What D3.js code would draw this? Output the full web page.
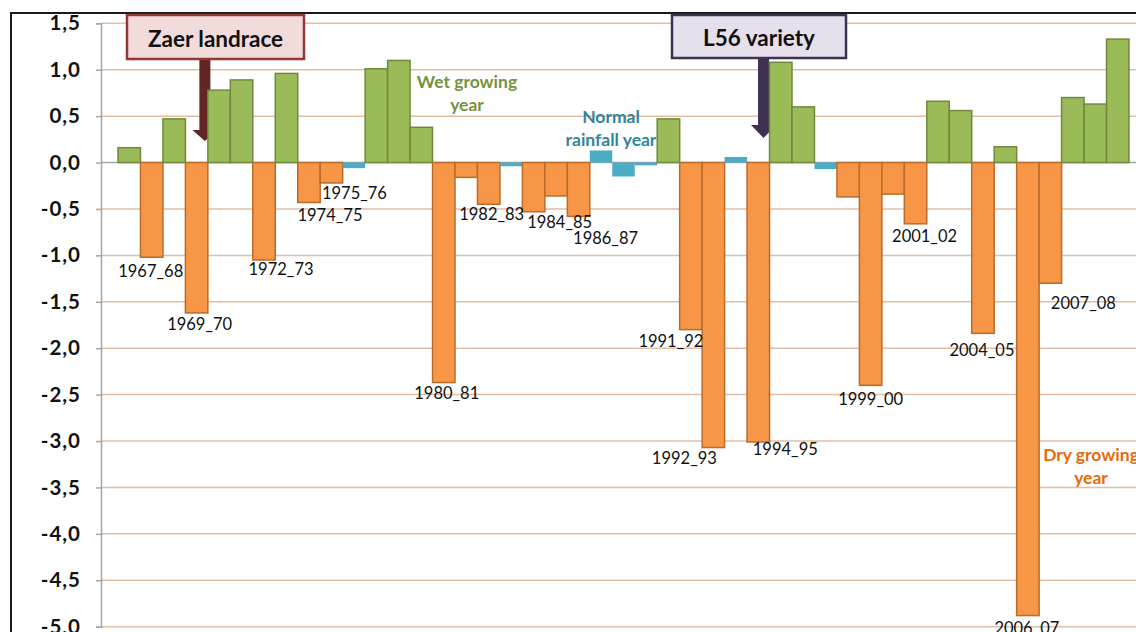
<!DOCTYPE html>
<html>
<head>
<meta charset="utf-8">
<script src="https://cdn.jsdelivr.net/npm/d3@7"></script>
<style>
  body { margin: 0; background: #fff; }
  svg { display: block; }
</style>
</head>
<body>
<script>
// growing seasons (x categories)
const seasons = ["1966_67","1967_68","1968_69","1969_70","1970_71","1971_72","1972_73","1973_74","1974_75","1975_76",
  "1976_77","1977_78","1978_79","1979_80","1980_81","1981_82","1982_83","1983_84","1984_85","1985_86",
  "1986_87","1987_88","1988_89","1989_90","1990_91","1991_92","1992_93","1993_94","1994_95","1995_96",
  "1996_97","1997_98","1998_99","1999_00","2000_01","2001_02","2002_03","2003_04","2004_05","2005_06",
  "2006_07","2007_08","2008_09","2009_10","2010_11"];

// rainfall index
const index = [0.16,-1.02,0.47,-1.62,0.78,0.89,-1.05,0.96,-0.43,-0.22,
  -0.06,1.01,1.10,0.38,-2.37,-0.16,-0.45,-0.04,-0.53,-0.36,
  -0.58,0.13,-0.15,-0.03,0.47,-1.80,-3.07,0.06,-3.01,1.08,
  0.60,-0.07,-0.37,-2.40,-0.34,-0.66,0.66,0.56,-1.84,0.17,
  -4.88,-1.30,0.70,0.63,1.33];

// W = wet, D = dry, N = normal
const yearType = ["W","D","W","D","W","W","D","W","D","D",
  "N","W","W","W","D","D","D","N","D","D",
  "D","N","N","N","W","D","D","N","D","W",
  "W","N","D","D","D","D","W","W","D","W",
  "D","D","W","W","W"];

const labelled = ["1967_68","1969_70","1972_73","1974_75","1975_76","1980_81","1982_83","1984_85","1986_87",
  "1991_92","1992_93","1994_95","1999_00","2001_02","2004_05","2006_07","2007_08"];

const yTicks = [1.5,1.0,0.5,0.0,-0.5,-1.0,-1.5,-2.0,-2.5,-3.0,-3.5,-4.0,-4.5,-5.0];

// label nudges from bar end (layout only)
const nudge = {
  "1967_68":[-1,14],"1969_70":[3,11],"1972_73":[17,9],"1974_75":[21,13],"1975_76":[23,10],
  "1980_81":[3,10],"1982_83":[3,10],"1984_85":[26,10],"1986_87":[27,22],"1991_92":[-20,11],
  "1992_93":[-29,10],"1994_95":[27,7],"1999_00":[0,14],"2001_02":[9,12],"2004_05":[-1,17],
  "2006_07":[-1,12],"2007_08":[33,20]
};

const colors = {
  W: { fill: "#9BBB59", stroke: "#71893F" },
  D: { fill: "#F79646", stroke: "#B96C2C" },
  N: { fill: "#4BACC6", stroke: "#4BACC6" }
};

const W = 1136, H = 632;
const data = seasons.map((s, i) => ({ season: s, value: index[i], type: yearType[i] }));

const svg = d3.select("body").append("svg")
  .attr("width", W)
  .attr("height", H);

const x = d3.scaleBand()
  .domain(seasons)
  .range([101, 1146])
  .paddingInner(0)
  .paddingOuter(0.757);

const y = d3.scaleLinear()
  .domain([-5, 1.5])
  .range([626.7, 23.3]);

// outer frame
svg.append("path")
  .attr("d", "M11," + H + "V13H" + W)
  .attr("fill", "none")
  .attr("stroke", "#1a1a1a")
  .attr("stroke-width", 2);

// gridlines
svg.append("g")
  .selectAll("line")
  .data(yTicks.filter(d => d !== 0))
  .join("line")
  .attr("x1", 101).attr("x2", W)
  .attr("y1", d => y(d)).attr("y2", d => y(d))
  .attr("stroke", "#E2BFA4")
  .attr("stroke-width", 1.5);

// zero line
svg.append("line")
  .attr("x1", 101).attr("x2", W)
  .attr("y1", y(0)).attr("y2", y(0))
  .attr("stroke", "#A6A6A6")
  .attr("stroke-width", 1.5);

const fmt = d3.formatLocale({ decimal: ",", thousands: ".", grouping: [3], currency: ["", ""], minus: "-" }).format(".1f");

const yAxis = d3.axisLeft(y)
  .tickValues(yTicks)
  .tickSize(5)
  .tickPadding(15)
  .tickFormat(fmt);

const gy = svg.append("g")
  .attr("transform", "translate(101,0)")
  .call(yAxis);
gy.select(".domain").attr("stroke", "#A6A6A6").attr("stroke-width", 1.5);
gy.selectAll(".tick line").attr("stroke", "#A6A6A6").attr("stroke-width", 1.5);
gy.selectAll(".tick text")
  .attr("fill", "#111")
  .style("font-family", "Lato, 'Open Sans', sans-serif")
  .style("font-weight", "bold")
  .style("font-size", "20.5px")
  .style("letter-spacing", "1px");

// annotation arrows (behind boxes and bars)
const notes = [
  { text: "Zaer landrace", anchor: "1970_71", dx: -3, box: [127, 15, 177, 44], fill: "#F2DCDB", stroke: "#953735", arrow: "#632523", headTop: 130, tip: 141 },
  { text: "L56 variety", anchor: "1995_96", dx: -6, box: [672, 15, 174, 43], fill: "#E5E0EC", stroke: "#403151", arrow: "#3F3151", headTop: 125, tip: 138 }
];

notes.forEach(n => {
  const cx = x(n.anchor) + n.dx;
  const top = n.box[1] + n.box[3];
  const p = d3.path();
  p.moveTo(cx - 5.5, top);
  p.lineTo(cx + 5.5, top);
  p.lineTo(cx + 5.5, n.headTop);
  p.lineTo(cx + 12.5, n.headTop);
  p.lineTo(cx, n.tip);
  p.lineTo(cx - 12.5, n.headTop);
  p.lineTo(cx - 5.5, n.headTop);
  p.closePath();
  svg.append("path").attr("d", p.toString()).attr("fill", n.arrow);
});

// bars
svg.append("g")
  .selectAll("rect")
  .data(data)
  .join("rect")
  .attr("x", d => x(d.season))
  .attr("width", x.bandwidth())
  .attr("y", d => y(Math.max(0, d.value)))
  .attr("height", d => Math.abs(y(d.value) - y(0)))
  .attr("fill", d => colors[d.type].fill)
  .attr("stroke", d => colors[d.type].stroke)
  .attr("stroke-width", d => d.type === "N" ? 0 : 1.5);

// season labels
svg.append("g")
  .selectAll("text")
  .data(data.filter(d => labelled.includes(d.season)))
  .join("text")
  .attr("x", d => x(d.season) + x.bandwidth() / 2 + nudge[d.season][0])
  .attr("y", d => y(d.value) + nudge[d.season][1])
  .attr("text-anchor", "middle")
  .attr("dominant-baseline", "central")
  .attr("fill", "#111")
  .style("font-family", "Lato, 'Open Sans', sans-serif")
  .style("font-size", "16.5px")
  .text(d => d.season);

// annotation boxes
notes.forEach(n => {
  svg.append("rect")
    .attr("x", n.box[0]).attr("y", n.box[1])
    .attr("width", n.box[2]).attr("height", n.box[3])
    .attr("fill", n.fill)
    .attr("stroke", n.stroke)
    .attr("stroke-width", 2.5);
  svg.append("text")
    .attr("x", n.box[0] + n.box[2] / 2)
    .attr("y", n.box[1] + n.box[3] / 2 + 1)
    .attr("text-anchor", "middle")
    .attr("dominant-baseline", "central")
    .attr("fill", "#111")
    .style("font-family", "Lato, 'Open Sans', sans-serif")
    .style("font-weight", "bold")
    .style("font-size", "22.5px")
    .text(n.text);
});

// year-type captions
const captions = [
  { lines: ["Wet growing", "year"], x: 467, y: 88, color: "#76923C" },
  { lines: ["Normal", "rainfall year"], x: 611, y: 123, color: "#31859C" },
  { lines: ["Dry growing", "year"], x: 1091, y: 461, color: "#E46C0A" }
];
captions.forEach(c => {
  const t = svg.append("text")
    .attr("text-anchor", "middle")
    .attr("fill", c.color)
    .style("font-family", "Lato, 'Open Sans', sans-serif")
    .style("font-weight", "bold")
    .style("font-size", "17.5px");
  c.lines.forEach((l, i) => {
    t.append("tspan").attr("x", c.x).attr("y", c.y + i * 23).text(l);
  });
});
</script>
</body>
</html>
